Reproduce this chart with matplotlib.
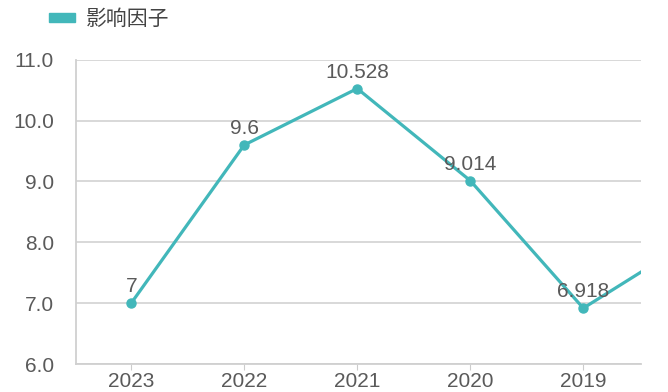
import matplotlib.pyplot as plt
import matplotlib.patches as mpatches

plt.rcParams['font.family'] = ['Liberation Sans', 'Noto Sans CJK SC', 'DejaVu Sans']

years = ["2023", "2022", "2021", "2020", "2019", "2018"]
impact = [7, 9.6, 10.528, 9.014, 6.918, 8.08]
labels = ["7", "9.6", "10.528", "9.014", "6.918", "8.08"]
series_name = "影响因子"

teal = "#42b7ba"
grey_text = "#5a5a5a"

fig = plt.figure(figsize=(6.68, 3.92), dpi=100)
ax = fig.add_axes([0.114, 0.0714, 0.846, 0.776])

x = list(range(len(years)))
ax.plot(x, impact, color=teal, lw=2.3, marker="o", ms=6.5, zorder=3, clip_on=True)
for xi, v, t in zip(x, impact, labels):
    ax.annotate(t, (xi, v), xytext=(0, 5), textcoords="offset points",
                ha="center", va="bottom", fontsize=15, color=grey_text, zorder=4,
                annotation_clip=True)

ax.set_yticks([6, 7, 8, 9, 10, 11])
ax.set_yticklabels(["6.0", "7.0", "8.0", "9.0", "10.0", "11.0"])
ax.set_xticks(x)
ax.set_xticklabels(years)
ax.set_xlim(-0.487, 4.513)
ax.set_ylim(6.0, 11.0)
ax.tick_params(axis="y", length=0, pad=16, labelsize=15, labelcolor=grey_text)
ax.tick_params(axis="x", length=4, color="#cccccc", pad=2, labelsize=15, labelcolor=grey_text)
ax.yaxis.grid(True, color="#d6d6d6", lw=1.3)
ax.set_axisbelow(True)
for s in ["top", "right"]:
    ax.spines[s].set_visible(False)
for s in ["left", "bottom"]:
    ax.spines[s].set_color("#d0d0d0")
    ax.spines[s].set_linewidth(1.3)

handle = mpatches.Patch(color=teal)
fig.legend([handle], [series_name], loc="upper left", bbox_to_anchor=(0.045, 1.024),
           frameon=False, fontsize=15, handlelength=1.25, handleheight=0.3,
           labelcolor="#444444", handletextpad=0.55)

fig.savefig("out.png", dpi=100)
